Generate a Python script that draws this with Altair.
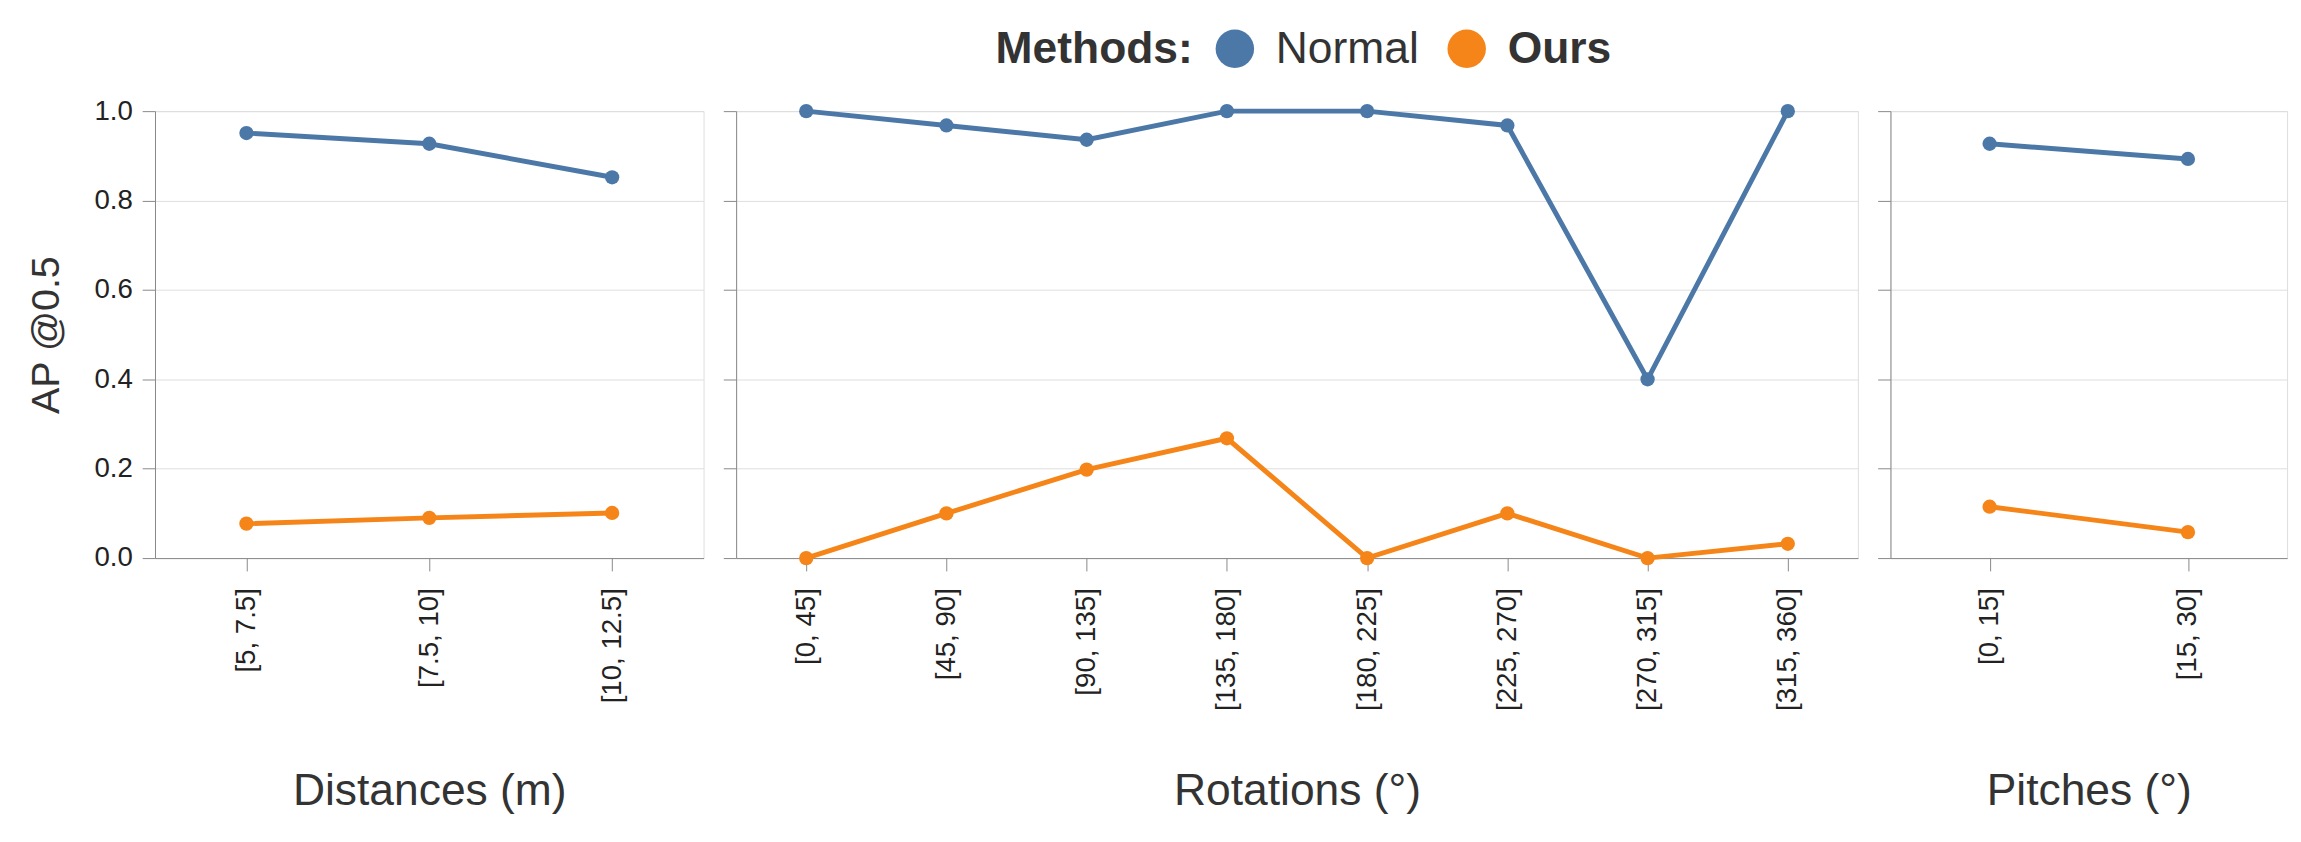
import altair as alt
import pandas as pd

methods = ["Normal", "Ours"]
colors = ["#4c78a8", "#f58518"]

dist_cats = ["[5, 7.5]", "[7.5, 10]", "[10, 12.5]"]
dist_normal = [0.951, 0.927, 0.852]
dist_ours = [0.077, 0.090, 0.101]

rot_cats = ["[0, 45]", "[45, 90]", "[90, 135]", "[135, 180]", "[180, 225]",
            "[225, 270]", "[270, 315]", "[315, 360]"]
rot_normal = [1.0, 0.968, 0.936, 1.0, 1.0, 0.968, 0.40, 1.0]
rot_ours = [0.0, 0.10, 0.198, 0.268, 0.0, 0.10, 0.0, 0.032]

pitch_cats = ["[0, 15]", "[15, 30]"]
pitch_normal = [0.927, 0.893]
pitch_ours = [0.115, 0.058]

y_ticks = [0.0, 0.2, 0.4, 0.6, 0.8, 1.0]

FONT = "Liberation Sans"
H = 453

LEGEND = alt.Legend(
    orient="none", legendX=852, legendY=-86,
    direction="horizontal", title="Methods:",
    titleOrient="left", titleFontSize=45,
    titleFontWeight="bold", titleColor="#333",
    titleFont=FONT, titlePadding=20, titleLimit=500,
    labelFontSize=45, labelFont=FONT, labelColor="#333",
    labelFontWeight=alt.expr("datum.label == 'Ours' ? 'bold' : 'normal'"),
    symbolType="circle", symbolSize=1520, symbolOpacity=1,
    symbolStrokeWidth=0, labelOffset=19, columnPadding=25,
    padding=0, labelLimit=400,
)


def frame(cats, normal, ours):
    rows = []
    for c, v in zip(cats, normal):
        rows.append({"bin": c, "method": "Normal", "ap": v})
    for c, v in zip(cats, ours):
        rows.append({"bin": c, "method": "Ours", "ap": v})
    return pd.DataFrame(rows)


def panel(cats, normal, ours, title, width, first=False):
    df = frame(cats, normal, ours)
    x = alt.X("bin:O", sort=cats, scale=alt.Scale(type="point", padding=0.5),
              axis=alt.Axis(title=title, labelAngle=270, titleY=250,
                            titleBaseline="alphabetic", labelPadding=17))
    yaxis = alt.Axis(values=y_ticks, format=".1f", title="AP @0.5" if first else None,
                     labels=first, grid=True)
    y = alt.Y("ap:Q", scale=alt.Scale(domain=[0, 1], nice=False), axis=yaxis)
    cscale = alt.Scale(domain=methods, range=colors)
    line = alt.Chart(df).mark_line(strokeWidth=5).encode(
        x=x, y=y, color=alt.Color("method:N", scale=cscale, legend=LEGEND))
    pts = alt.Chart(df).mark_circle(size=210, opacity=1).encode(
        x=x, y=y, color=alt.Color("method:N", scale=cscale, legend=LEGEND))
    return alt.layer(line, pts).properties(width=width, height=H)


left = panel(dist_cats, dist_normal, dist_ours, "Distances (m)", 556, first=True)
mid = panel(rot_cats, rot_normal, rot_ours, "Rotations (°)", 1137)
right = panel(pitch_cats, pitch_normal, pitch_ours, "Pitches (°)", 402)

chart = alt.hconcat(left, mid, right, spacing=18).resolve_scale(
    color="shared"
).resolve_legend(
    color="shared"
).properties(
    padding={"left": 18, "top": 13, "right": 5, "bottom": 5}
).configure_axis(
    labelFont=FONT, labelFontSize=28, labelColor="#222",
    titleFont=FONT, titleFontSize=45, titleColor="#333", titleFontWeight="normal",
    tickSize=13, tickColor="#888", domainColor="#888", gridColor="#ddd",
    labelPadding=10, titlePadding=12
).configure_axisY(
    titleFontSize=40, titlePadding=28
).configure_view(
    stroke="#ddd"
)

chart.save("out.html", embed_options={"renderer": "svg", "actions": False})
